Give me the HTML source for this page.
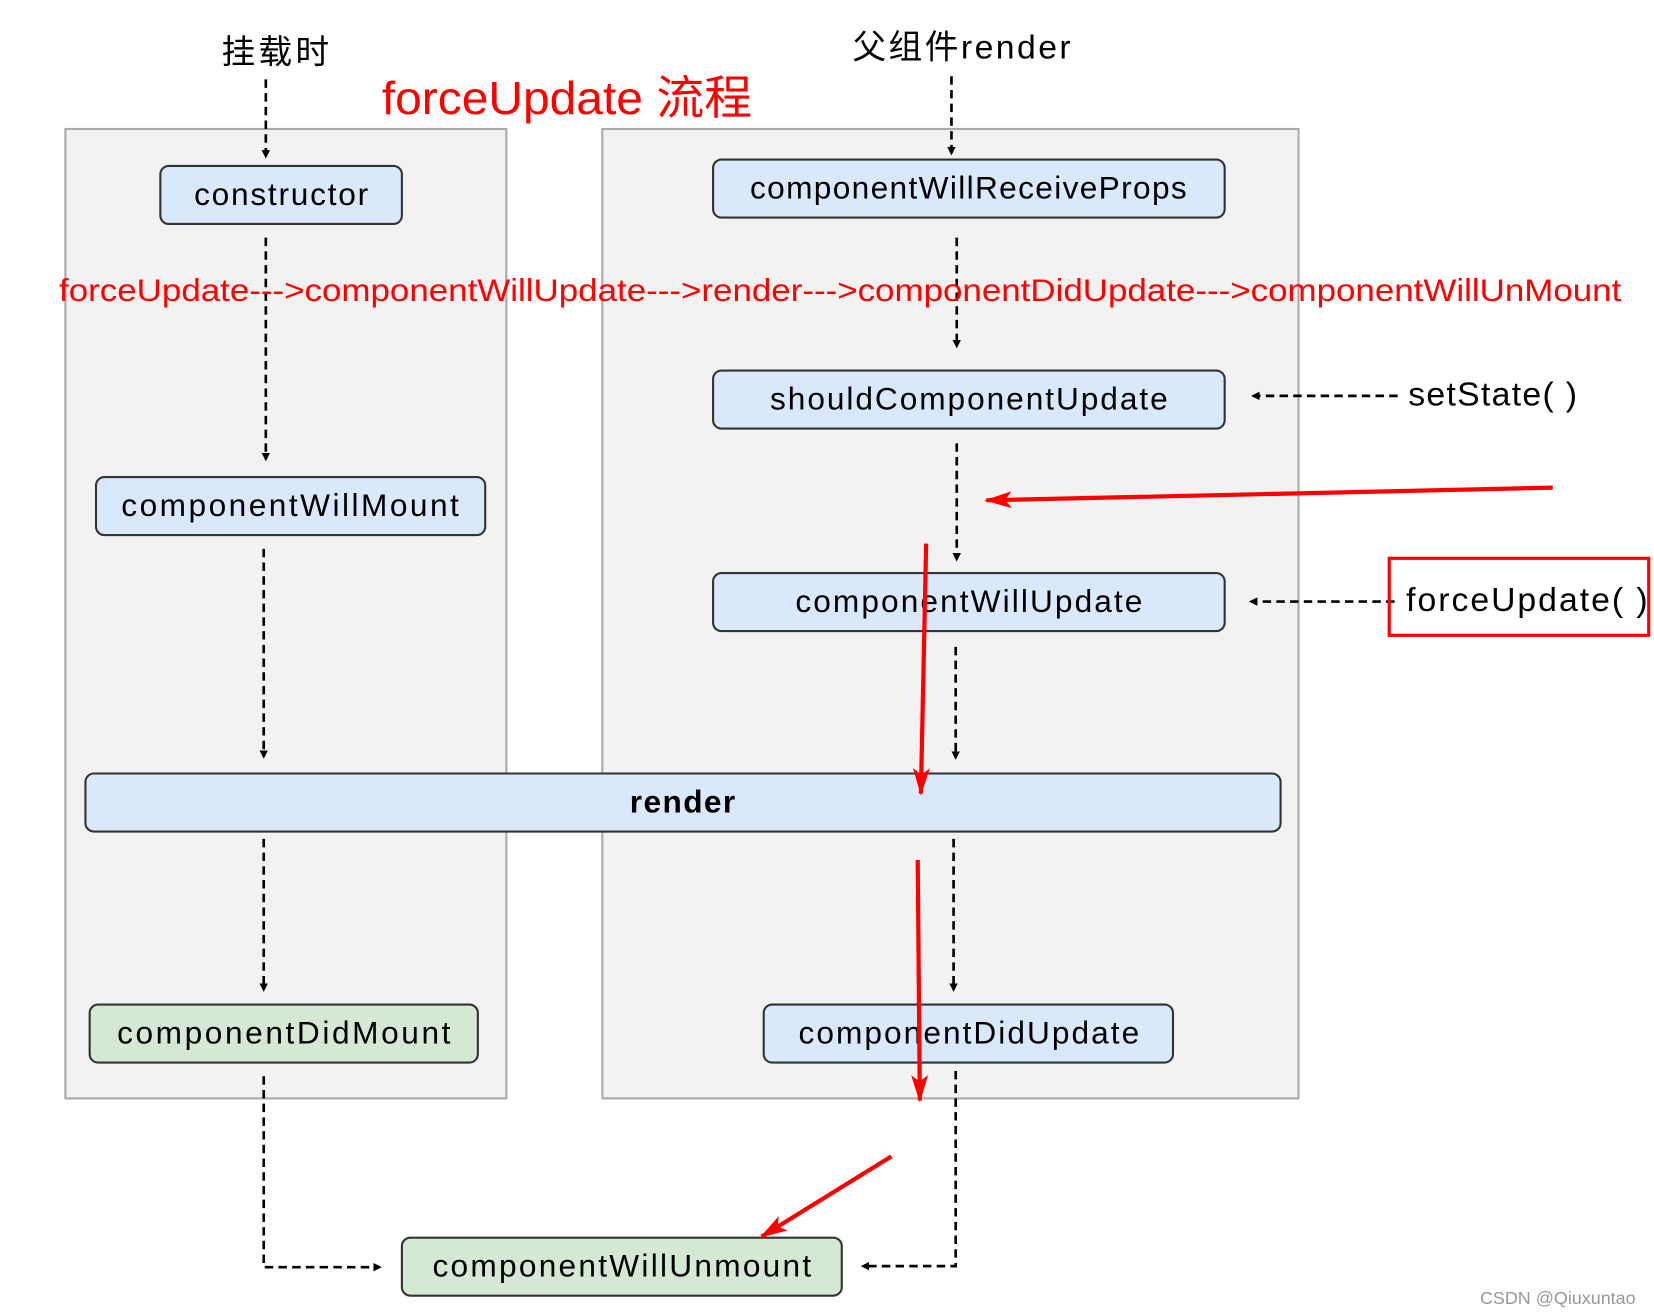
<!DOCTYPE html>
<html><head><meta charset="utf-8"><style>html,body{margin:0;padding:0;background:#fff}svg{display:block}</style></head>
<body>
<svg width="1654" height="1316" viewBox="0 0 1568 1247" xmlns="http://www.w3.org/2000/svg" font-family="'Liberation Sans','Noto Sans CJK SC',sans-serif">
<defs>
<marker id="ab" markerWidth="8" markerHeight="8" refX="6" refY="4" orient="auto" markerUnits="userSpaceOnUse"><path d="M0,0 L8,4 L0,8 Z" fill="#000"/></marker>
<marker id="ar" markerWidth="26" markerHeight="16" refX="24" refY="8" orient="auto" markerUnits="userSpaceOnUse"><path d="M0,0 L26,8 L0,16 L6,8 Z" fill="#f00"/></marker>
</defs>
<rect x="62" y="122" width="418" height="919" fill="#f2f2f2" stroke="#aaa" stroke-width="2"/>
<rect x="571" y="122" width="660" height="919" fill="#f2f2f2" stroke="#aaa" stroke-width="2"/>
<g stroke="#000" stroke-width="2.5" stroke-dasharray="8,5" fill="none" marker-end="url(#ab)">
<line x1="252" y1="75" x2="252" y2="148"/>
<line x1="252" y1="225" x2="252" y2="435"/>
<line x1="250" y1="520" x2="250" y2="717"/>
<line x1="250" y1="795" x2="250" y2="938"/>
<line x1="902" y1="72" x2="902" y2="145"/>
<line x1="907" y1="225" x2="907" y2="328"/>
<line x1="907" y1="420" x2="907" y2="530"/>
<line x1="906" y1="613" x2="906" y2="718"/>
<line x1="904" y1="795" x2="904" y2="938"/>
<polyline points="250,1020 250,1201 360,1201"/>
<polyline points="906,1015 906,1200 818,1200"/>
<line x1="1325" y1="375" x2="1188" y2="375"/>
<line x1="1322" y1="570" x2="1186" y2="570"/>
</g>
<g stroke="#333" stroke-width="2">
<rect x="152" y="157" width="229" height="55" rx="8" fill="#dae8fc"/>
<rect x="676" y="151" width="485" height="55" rx="8" fill="#dae8fc"/>
<rect x="676" y="351" width="485" height="55" rx="8" fill="#dae8fc"/>
<rect x="91" y="452" width="369" height="55" rx="8" fill="#dae8fc"/>
<rect x="676" y="543" width="485" height="55" rx="8" fill="#dae8fc"/>
<rect x="81" y="733" width="1133" height="55" rx="8" fill="#dae8fc"/>
<rect x="85" y="952" width="368" height="55" rx="8" fill="#d5e8d4"/>
<rect x="724" y="952" width="388" height="55" rx="8" fill="#dae8fc"/>
<rect x="381" y="1173" width="417" height="55" rx="8" fill="#d5e8d4"/>
</g>
<g font-size="30" fill="#000" lengthAdjust="spacingAndGlyphs">
<text x="184" y="194" textLength="165">constructor</text>
<text x="711" y="188" textLength="414">componentWillReceiveProps</text>
<text x="730" y="388" textLength="377">shouldComponentUpdate</text>
<text x="115" y="489" textLength="320">componentWillMount</text>
<text x="754" y="580" textLength="329">componentWillUpdate</text>
<text x="597" y="770" textLength="100" font-weight="bold">render</text>
<text x="111" y="989" textLength="316">componentDidMount</text>
<text x="757" y="989" textLength="323">componentDidUpdate</text>
<text x="410" y="1210" textLength="359">componentWillUnmount</text>
<text x="210" y="60" font-size="32" textLength="102">挂载时</text>
<text x="808" y="55" font-size="32" textLength="207">父组件render</text>
<text x="1335" y="384" font-size="32" textLength="160">setState( )</text>
<text x="1333" y="579" font-size="32" textLength="229">forceUpdate( )</text>
</g>
<rect x="1317" y="529" width="246" height="73" fill="none" stroke="#f00" stroke-width="3"/>
<text x="362" y="108" font-size="44" fill="#f00" textLength="351" lengthAdjust="spacingAndGlyphs">forceUpdate 流程</text>
<text x="56" y="285" font-size="30" fill="#f00" textLength="1481" lengthAdjust="spacingAndGlyphs">forceUpdate---&gt;componentWillUpdate---&gt;render---&gt;componentDidUpdate---&gt;componentWillUnMount</text>
<g stroke="#f00" stroke-width="4" fill="none" marker-end="url(#ar)">
<line x1="1472" y1="462" x2="935" y2="474"/>
<line x1="878" y1="515" x2="873" y2="752"/>
<line x1="870" y1="815" x2="872" y2="1043"/>
<line x1="845" y1="1096" x2="722" y2="1172"/>
</g>
<text x="1403" y="1236" font-size="17" fill="#999">CSDN @Qiuxuntao</text>
</svg>
</body></html>
